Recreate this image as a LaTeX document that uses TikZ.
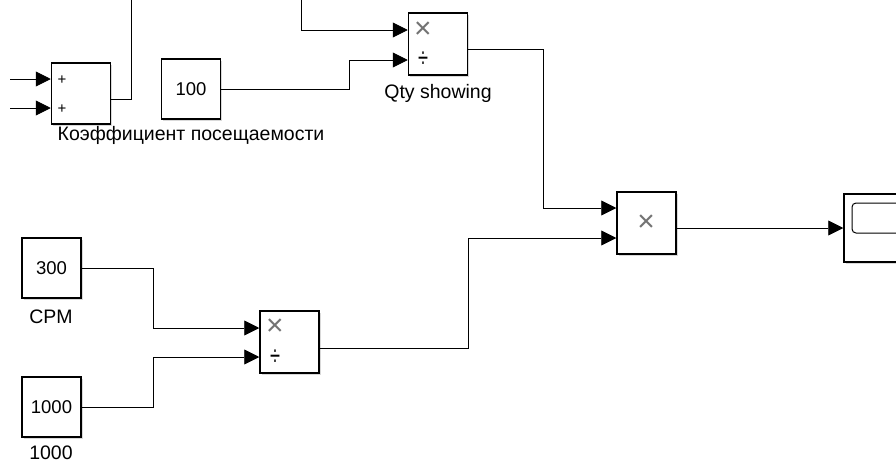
\documentclass[tikz,border=0pt]{standalone}
\usepackage{fontspec}
\setmainfont{Liberation Sans}
\usetikzlibrary{arrows.meta,positioning,shadows}
\begin{document}
\begin{tikzpicture}
[
    x=1pt, y=-1pt,
    >={Triangle[length=15pt,width=15pt]},
    blk/.style={draw, line width=1.5pt, fill=white, inner sep=0pt, minimum width=59pt, minimum height=61pt,
        drop shadow={shadow xshift=1.5pt, shadow yshift=-1.5pt, opacity=0.3, fill=gray},
        font=\fontsize{18.5}{21}\selectfont},
    wire/.style={->, line width=0.9pt},
    lbl/.style={font=\fontsize{19.5}{22}\selectfont, inner sep=0pt},
    mulsgn/.style={font=\fontsize{30}{32}\selectfont, inner sep=0pt, gray!90!black},
    divsgn/.style={font=\fontsize{28}{30}\selectfont, inner sep=0pt},
    plus/.style={font=\fontsize{15}{17}\selectfont, inner sep=0pt},
]
\useasboundingbox (0,0) rectangle (896,466);
\node[blk] (sum) at (81,93.5) {};
\node[plus] (sumA) at (62,80) {+};
\node[plus] (sumB) at (62,109) {+};
\node[blk, minimum height=60pt] (c100) at (191,89) {100};
\node[lbl] (c100name) at (191,135) {Коэффициент посещаемости};
\node[blk, minimum height=62pt] (qty) at (438,44) {};
\node[mulsgn] (qtyM) at (423,30) {×};
\node[divsgn] (qtyD) at (423,60) {\scalebox{0.65}[1]{÷}};
\node[lbl] (qtyname) at (438,93) {Qty showing};
\node[blk, minimum height=62pt] (mul) at (646.5,223) {};
\node[mulsgn] (mulM) at (646,223) {×};
\node[blk, minimum width=60pt, minimum height=68pt] (scope) at (874,228) {};
\node[draw, rounded corners=4pt, line width=1pt, minimum width=50pt, minimum height=30pt] (screen) at (877,218) {};
\node[blk, minimum height=60pt] (c300) at (51.5,268) {300};
\node[lbl] (c300name) at (51,317) {CPM};
\node[blk, minimum height=60pt] (c1000) at (51.5,407) {1000};
\node[lbl] (c1000name) at (51,453) {1000};
\node[blk, minimum height=62pt] (div) at (289.5,342) {};
\node[mulsgn] (divM) at (275,327) {×};
\node[divsgn] (divD) at (275,358) {\scalebox{0.65}[1]{÷}};
\coordinate (inA) at (10,79);
\coordinate (inB) at (10,108);
\coordinate (upA) at (131,0);
\coordinate (upB) at (301,0);
\draw[wire] (inA) -- ([yshift=14.5pt]sum.west);
\draw[wire] (inB) -- ([yshift=-14.5pt]sum.west);
\draw[line width=0.9pt] ([yshift=-5.5pt]sum.east) -| (upA);
\draw[wire] (upB) |- ([yshift=14pt]qty.west);
\draw[wire] (c100.east) -- ++(128,0) |- ([yshift=-16pt]qty.west);
\draw[wire] ([yshift=-5pt]qty.east) -- ++(75,0) |- ([yshift=15pt]mul.west);
\draw[wire] (c300.east) -- ++(72,0) |- ([yshift=14pt]div.west);
\draw[wire] (c1000.east) -- ++(72,0) |- ([yshift=-15pt]div.west);
\draw[wire] ([yshift=-6pt]div.east) -- ++(149,0) |- ([yshift=-15pt]mul.west);
\draw[wire] ([yshift=-5pt]mul.east) -- (scope.west);
\end{tikzpicture}
\end{document}
